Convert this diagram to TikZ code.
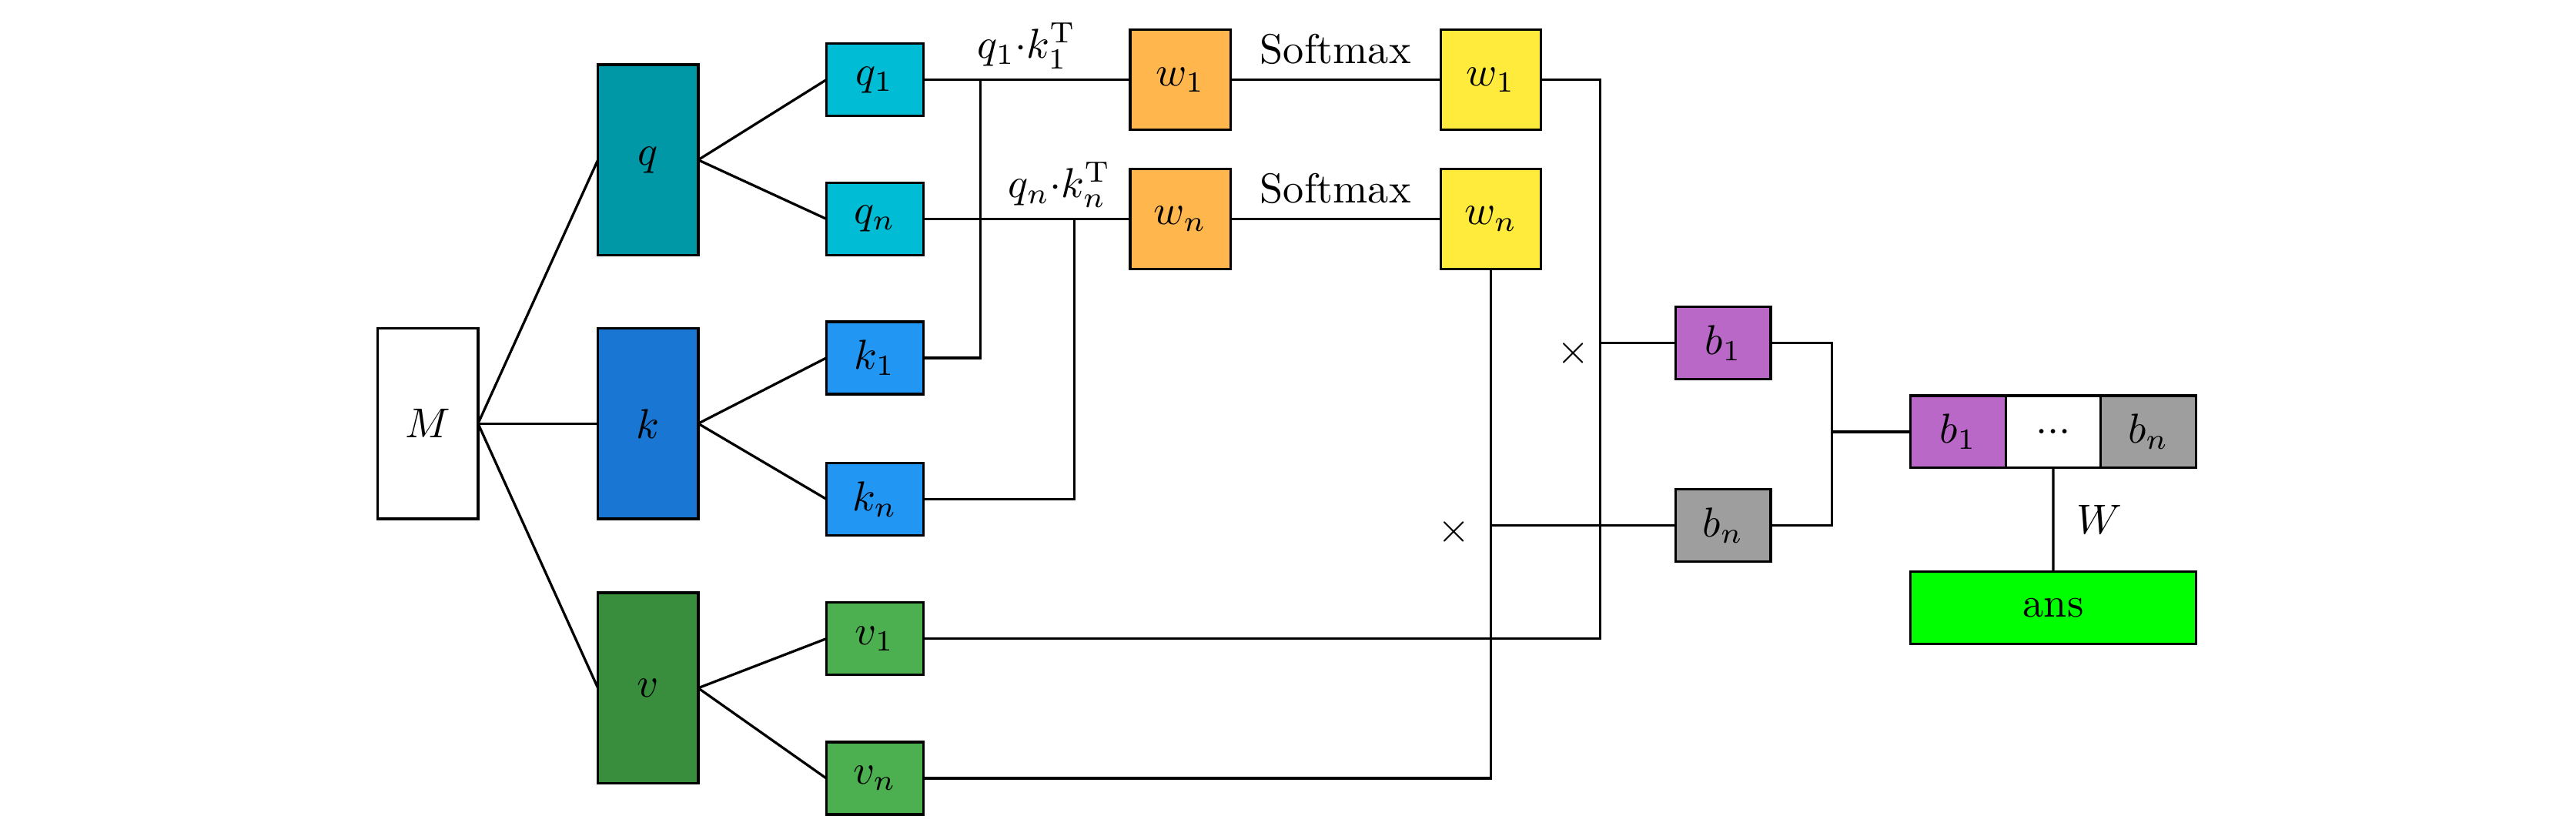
\documentclass[tikz,border=0pt]{standalone}
\usepackage{amsmath}
\usepackage{amssymb}
\usepackage{xcolor}
\usepackage{tikz}
\usetikzlibrary{positioning}
\definecolor{qdark}{HTML}{0097A7}
\definecolor{qlight}{HTML}{00BCD4}
\definecolor{kdark}{HTML}{1976D2}
\definecolor{klight}{HTML}{2196F3}
\definecolor{vdark}{HTML}{388E3C}
\definecolor{vlight}{HTML}{4CAF50}
\definecolor{scoreorange}{HTML}{FFB74D}
\definecolor{softyellow}{HTML}{FFEB3B}
\definecolor{bpurple}{HTML}{BA68C8}
\definecolor{bgray}{HTML}{9E9E9E}
\definecolor{ansgreen}{HTML}{00FF00}

\begin{document}
\begin{tikzpicture}[
    line width=0.6pt,
    block/.style={
        rectangle,
        draw=black,
        inner sep=0pt,
        outer sep=0pt
    },
    big/.style={block, minimum width=0.843cm, minimum height=1.602cm},
    small/.style={block, minimum width=0.815cm, minimum height=0.608cm},
    wbox/.style={block, minimum width=0.843cm, minimum height=0.843cm},
    bbox/.style={block, minimum width=0.8cm, minimum height=0.608cm},
    wire/.style={-, line width=0.6pt}
]
    \useasboundingbox (0,0) rectangle (21.66,6.946);

    % === INPUT AND PROJECTIONS ===
    \node[big, fill=white] (M) at (3.598,3.384) {$M$};
    \node[big, fill=qdark] (q) at (5.449,5.601) {$q$};
    \node[big, fill=kdark] (k) at (5.449,3.384) {$k$};
    \node[big, fill=vdark] (v) at (5.449,1.160) {$v$};

    \draw[wire] (M.east) -- (q.west);
    \draw[wire] (M.east) -- (k.west);
    \draw[wire] (M.east) -- (v.west);

    % Split into heads
    \node[small, fill=qlight] (q1) at (7.355,6.275) {$q_1$};
    \node[small, fill=qlight] (qn) at (7.355,5.105) {$q_n$};
    \node[small, fill=klight] (k1) at (7.355,3.936) {$k_1$};
    \node[small, fill=klight] (kn) at (7.355,2.749) {$k_n$};
    \node[small, fill=vlight] (v1) at (7.355,1.575) {$v_1$};
    \node[small, fill=vlight] (vn) at (7.355,0.401) {$v_n$};

    \draw[wire] (q.east) -- (q1.west);
    \draw[wire] (q.east) -- (qn.west);
    \draw[wire] (k.east) -- (k1.west);
    \draw[wire] (k.east) -- (kn.west);
    \draw[wire] (v.east) -- (v1.west);
    \draw[wire] (v.east) -- (vn.west);

    % === SCORES AND SOFTMAX ===
    \node[wbox, fill=scoreorange] (s1) at (9.924,6.275) {$w_1$};
    \node[wbox, fill=scoreorange] (sn) at (9.924,5.105) {$w_n$};
    \node[wbox, fill=softyellow] (p1) at (12.535,6.275) {$w_1$};
    \node[wbox, fill=softyellow] (pn) at (12.535,5.105) {$w_n$};

    \coordinate (dot1) at (8.246,6.275);
    \coordinate (dotn) at (9.033,5.105);

    \draw[wire] (q1.east) -- (s1.west);
    \draw[wire] (qn.east) -- (sn.west);
    \draw[wire] (k1.east) -| (dot1);
    \draw[wire] (kn.east) -| (dotn);

    \node (dotlab1) at (8.633,6.56) {$q_1{\cdot}k_1^{\mathrm{T}}$};
    \node (dotlabn) at (8.909,5.39) {$q_n{\cdot}k_n^{\mathrm{T}}$};

    \draw[wire] (s1.east) -- node[above] {Softmax} (p1.west);
    \draw[wire] (sn.east) -- node[above] {Softmax} (pn.west);

    % === WEIGHTED VALUES ===
    \node[bbox, fill=bpurple] (b1) at (14.489,4.061) {$b_1$};
    \node[bbox, fill=bgray] (bn) at (14.489,2.528) {$b_n$};

    \coordinate (mul1) at (13.453,1.575);
    \draw[wire] (p1.east) -| (mul1) -- (v1.east);
    \draw[wire] (pn.south) |- (vn.east);
    \draw[wire] (b1.west) -- (b1.west -| mul1);
    \draw[wire] (bn.west) -- (bn.west -| pn.south);

    \node (times1) at (13.232,3.978) {$\times$};
    \node (timesn) at (12.224,2.472) {$\times$};

    % === CONCAT AND OUTPUT ===
    \node[bbox, fill=bpurple] (cat1) at (16.464,3.315) {$b_1$};
    \node[bbox, fill=white, right=0pt of cat1] (cat2) {...};
    \node[bbox, fill=bgray, right=0pt of cat2] (cat3) {$b_n$};

    \coordinate (join) at (15.401,3.315);
    \draw[wire] (b1.east) -| (join) |- (bn.east);
    \draw[wire] (join) -- (cat1.west);

    \node[block, fill=ansgreen, minimum width=2.403cm, minimum height=0.608cm] (ans) at (17.265,1.837) {ans};
    \draw[wire] (cat2.south) -- node[right=2pt] {$W$} (ans.north);
\end{tikzpicture}
\end{document}
